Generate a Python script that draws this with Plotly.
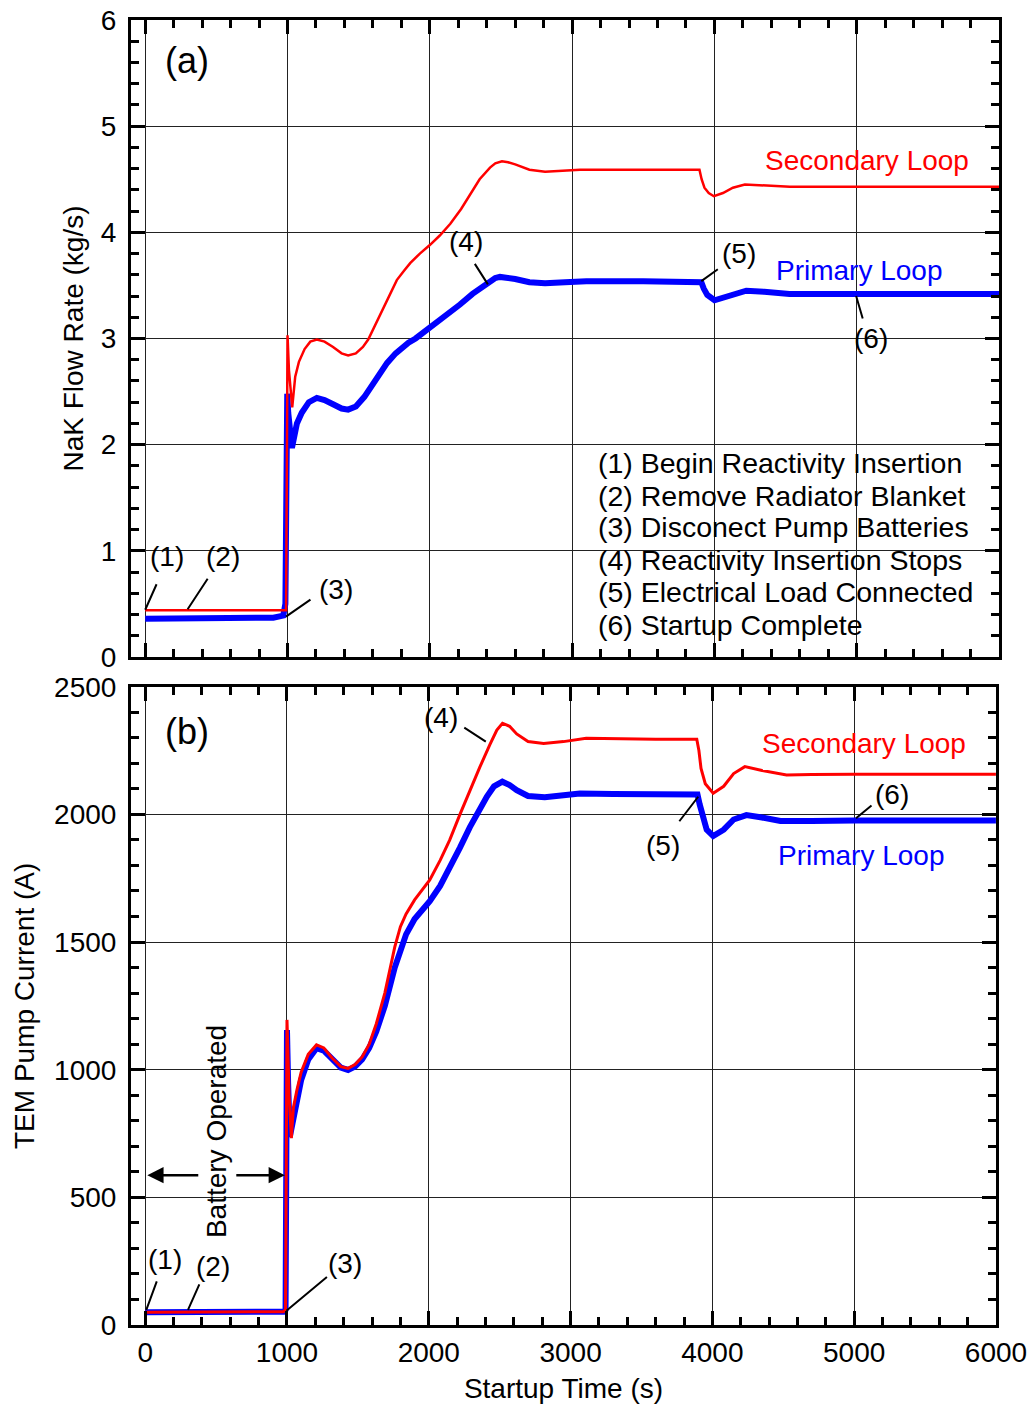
import plotly.graph_objects as go

# ---------------- data ----------------
# (a) NaK flow rate (kg/s)
t_sec_a = [0, 960, 990, 1000, 1010, 1033, 1045, 1054, 1080, 1120, 1160, 1206, 1260, 1320, 1380, 1426,
           1480, 1530, 1567, 1620, 1700, 1768, 1820, 1862, 1930, 2000, 2070, 2144, 2220, 2284, 2350,
           2423, 2460, 2507, 2550, 2600, 2700, 2810, 2950, 3056, 3500, 3895, 3910, 3930, 3960, 3996,
           4060, 4130, 4214, 4350, 4530, 6000]
flow_sec = [0.44, 0.44, 0.44, 3.03, 2.7, 2.35, 2.55, 2.64, 2.78, 2.9, 2.97, 2.99, 2.97, 2.92, 2.86, 2.84,
            2.86, 2.92, 2.99, 3.14, 3.37, 3.55, 3.64, 3.71, 3.8, 3.88, 3.97, 4.08, 4.22, 4.36, 4.5,
            4.61, 4.65, 4.67, 4.66, 4.64, 4.59, 4.57, 4.58, 4.59, 4.59, 4.59, 4.5, 4.42, 4.37, 4.34,
            4.37, 4.42, 4.45, 4.44, 4.43, 4.43]

t_pri_a = [0, 830, 900, 970, 985, 998, 1005, 1031, 1045, 1066, 1100, 1150, 1206, 1260, 1320, 1380, 1426,
           1480, 1540, 1600, 1650, 1700, 1760, 1812, 1850, 1900, 1950, 2000, 2100, 2212, 2300, 2380,
           2423, 2460, 2493, 2540, 2600, 2700, 2810, 2950, 3100, 3500, 3908, 3925, 3950, 4001, 4080,
           4150, 4224, 4350, 4528, 6000]
flow_pri = [0.36, 0.36, 0.37, 0.39, 0.5, 2.48, 2.3, 1.97, 2.08, 2.2, 2.3, 2.4, 2.44, 2.42, 2.38, 2.34, 2.33,
            2.36, 2.45, 2.57, 2.68, 2.77, 2.86, 2.92, 2.96, 3.0, 3.05, 3.1, 3.2, 3.32, 3.42, 3.5,
            3.54, 3.57, 3.58, 3.575, 3.56, 3.53, 3.52, 3.53, 3.54, 3.54, 3.53, 3.47, 3.41, 3.36, 3.39,
            3.43, 3.45, 3.44, 3.42, 3.42]

# (b) TEM pump current (A)
t_sec_b = [0, 950, 975, 990, 1000, 1005, 1015, 1031, 1045, 1070, 1100, 1150, 1208, 1260, 1320, 1380, 1431,
           1480, 1530, 1580, 1630, 1690, 1760, 1800, 1840, 1900, 1960, 2007, 2080, 2148, 2220, 2290,
           2360, 2430, 2480, 2520, 2570, 2620, 2700, 2810, 2950, 3110, 3300, 3600, 3890, 3905, 3920,
           3950, 4006, 4080, 4150, 4229, 4350, 4523, 4700, 5000, 6000]
cur_sec = [50, 50, 52, 60, 1195, 1100, 900, 732, 850, 920, 990, 1060, 1097, 1085, 1045, 1012, 1005,
           1020, 1050, 1100, 1180, 1300, 1480, 1560, 1610, 1665, 1710, 1743, 1820, 1900, 2000, 2095,
           2185, 2272, 2330, 2357, 2345, 2315, 2285, 2278, 2285, 2298, 2296, 2294, 2294, 2250, 2180,
           2120, 2083, 2110, 2160, 2187, 2172, 2154, 2156, 2157, 2157]

t_pri_b = [0, 950, 975, 990, 1000, 1008, 1020, 1040, 1066, 1100, 1150, 1208, 1260, 1320, 1380, 1431,
           1480, 1530, 1580, 1630, 1690, 1760, 1800, 1840, 1900, 1960, 2007, 2080, 2150, 2220, 2290,
           2360, 2410, 2460, 2519, 2570, 2620, 2700, 2818, 2950, 3065, 3300, 3600, 3895, 3910, 3930,
           3960, 4006, 4080, 4150, 4240, 4350, 4480, 4700, 5000, 6000]
cur_pri = [50, 50, 52, 60, 1155, 950, 737, 800, 860, 960, 1040, 1084, 1075, 1040, 1008, 999,
           1012, 1040, 1085, 1150, 1250, 1400, 1470, 1530, 1590, 1630, 1660, 1720, 1790, 1870, 1950,
           2025, 2070, 2110, 2128, 2115, 2095, 2072, 2067, 2075, 2082, 2080, 2079, 2078, 2040, 1990,
           1940, 1915, 1940, 1980, 1997, 1988, 1974, 1974, 1976, 1976]

x_ticks = [0, 1000, 2000, 3000, 4000, 5000, 6000]
y_ticks_a = [0, 1, 2, 3, 4, 5, 6]
y_ticks_b = [0, 500, 1000, 1500, 2000, 2500]

events_text = ["(1) Begin Reactivity Insertion",
               "(2) Remove Radiator Blanket",
               "(3) Disconect Pump Batteries",
               "(4) Reactivity Insertion Stops",
               "(5) Electrical Load Connected",
               "(6) Startup Complete"]

RED = "#ff0000"
BLUE = "#0000ff"
FONT = "Liberation Sans, Arial, sans-serif"
FS = 28

fig = go.Figure()
fig.add_trace(go.Scatter(x=t_pri_a, y=flow_pri, mode="lines", line=dict(color=BLUE, width=6),
                         xaxis="x", yaxis="y", showlegend=False))
fig.add_trace(go.Scatter(x=t_sec_a, y=flow_sec, mode="lines", line=dict(color=RED, width=2.5),
                         xaxis="x", yaxis="y", showlegend=False))
fig.add_trace(go.Scatter(x=t_pri_b, y=cur_pri, mode="lines", line=dict(color=BLUE, width=6),
                         xaxis="x2", yaxis="y2", showlegend=False))
fig.add_trace(go.Scatter(x=t_sec_b, y=cur_sec, mode="lines", line=dict(color=RED, width=3),
                         xaxis="x2", yaxis="y2", showlegend=False))

common = dict(showline=True, linewidth=3, linecolor="black", mirror="ticks",
              ticks="inside", ticklen=14, tickwidth=2.5, tickcolor="black",
              showgrid=True, gridcolor="#222222", gridwidth=1, zeroline=False, automargin=False,
              ticklabeloverflow="allow",
              tickfont=dict(family=FONT, size=FS, color="black"))

def minor(d):
    return dict(ticks="inside", ticklen=8, tickwidth=2.5, tickcolor="black", dtick=d, tick0=0,
                showgrid=False)

fig.update_layout(
    width=1033, height=1407, autosize=False,
    margin=dict(l=131, r=34, t=20, b=82),
    plot_bgcolor="white", paper_bgcolor="white",
    font=dict(family=FONT, size=FS, color="black"),
    xaxis=dict(domain=[0, 1], range=[-100, 6000], anchor="y", tickmode="array", tickvals=x_ticks,
               showticklabels=False, minor=minor(200), **common),
    yaxis=dict(domain=[0.5119, 1], range=[0, 6], anchor="x", tickmode="array", tickvals=y_ticks_a,
               ticklabelstandoff=6, minor=minor(0.2),
               title=dict(text="NaK Flow Rate (kg/s)", font=dict(family=FONT, size=FS), standoff=10),
               **common),
    xaxis2=dict(domain=[0, 0.9965], range=[-100, 6000], anchor="y2", tickmode="array", tickvals=x_ticks,
                ticklabelstandoff=0, minor=minor(200),
                title=dict(text="Startup Time (s)", font=dict(family=FONT, size=FS), standoff=12),
                **common),
    yaxis2=dict(domain=[0, 0.4891], range=[0, 2500], anchor="x2", tickmode="array", tickvals=y_ticks_b,
                ticklabelstandoff=6, minor=minor(100),
                title=dict(text="TEM Pump Current (A)", font=dict(family=FONT, size=FS), standoff=12),
                **common),
)

ann = []

def txt(x, y, text, xr="x", yr="y", color="black", size=FS, xanchor="center", textangle=0):
    ann.append(dict(x=x, y=y, xref=xr, yref=yr, text=text, showarrow=False, xanchor=xanchor,
                    yanchor="middle", textangle=textangle,
                    font=dict(family=FONT, size=size, color=color)))

def leader(x, y, ax, ay, xr="x", yr="y"):
    ann.append(dict(x=x, y=y, xref=xr, yref=yr, text="", showarrow=True, arrowhead=0,
                    arrowwidth=2, arrowcolor="black", ax=ax, ay=ay, standoff=0, startstandoff=0))

# ---- panel (a) ----
txt(296, 5.62, "(a)", size=36)
txt(5075, 4.68, "Secondary Loop", color=RED)
txt(5019, 3.64, "Primary Loop", color=BLUE)
legend_y = [1.83, 1.52, 1.22, 0.91, 0.61, 0.30]
for s, yy in zip(events_text, legend_y):
    txt(3170, yy, s, xanchor="left", size=28.5)

txt(150, 0.95, "(1)"); leader(0, 0.445, 12, -27)
txt(549, 0.95, "(2)"); leader(298, 0.45, 21, -32)
txt(1342, 0.64, "(3)"); leader(989, 0.38, 26, -18)
txt(2254, 3.91, "(4)"); leader(2408, 3.51, -14, -22)
txt(4170, 3.80, "(5)"); leader(3908, 3.54, 18, -13)
txt(5103, 3.00, "(6)"); leader(4996, 3.40, 7, 24)

# ---- panel (b) ----
txt(292, 2323, "(b)", xr="x2", yr="y2", size=36)
txt(5069, 2279, "Secondary Loop", xr="x2", yr="y2", color=RED)
txt(5055, 1837, "Primary Loop", xr="x2", yr="y2", color=BLUE)
txt(502, 757, "Battery Operated", xr="x2", yr="y2", textangle=-90)

txt(138, 258, "(1)", xr="x2", yr="y2"); leader(8, 59, 11, -30, "x2", "y2")
txt(476, 231, "(2)", xr="x2", yr="y2"); leader(302, 59, 12, -27, "x2", "y2")
txt(1407, 239, "(3)", xr="x2", yr="y2"); leader(996, 56, 42, -35, "x2", "y2")
txt(2085, 2381, "(4)", xr="x2", yr="y2"); leader(2402, 2285, -23, -15, "x2", "y2")
txt(3651, 1880, "(5)", xr="x2", yr="y2"); leader(3900, 2069, -20, 26, "x2", "y2")
txt(5266, 2076, "(6)", xr="x2", yr="y2"); leader(5013, 1985, 17, -14, "x2", "y2")

# battery operated arrows
ann.append(dict(x=15, y=587, xref="x2", yref="y2", ax=385, ay=587, axref="x2", ayref="y2",
                text="", showarrow=True, arrowhead=2, arrowsize=1.3, arrowwidth=2.5, arrowcolor="black",
                standoff=0, startstandoff=0))
ann.append(dict(x=985, y=587, xref="x2", yref="y2", ax=632, ay=587, axref="x2", ayref="y2",
                text="", showarrow=True, arrowhead=2, arrowsize=1.3, arrowwidth=2.5, arrowcolor="black",
                standoff=0, startstandoff=0))

fig.update_layout(annotations=ann)
# remove the default 8px page margin so the figure fills the window exactly
fig.write_html("out.html", config={"displayModeBar": False},
               post_script="document.body.style.margin='0';")
